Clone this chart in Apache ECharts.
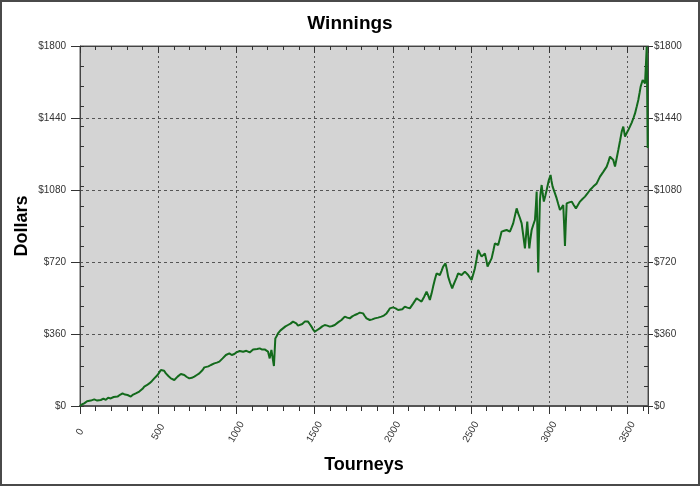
<!DOCTYPE html>
<html>
<head>
<meta charset="utf-8">
<script src="https://cdn.jsdelivr.net/npm/echarts@6/dist/echarts.min.js"></script>
<style>
html,body{margin:0;padding:0;background:#fff;}
#chart{width:700px;height:486px;}
</style>
</head>
<body>
<div id="chart"></div>
<script>
const chartTitle = 'Winnings';
const xTitle = 'Tourneys';
const yTitle = 'Dollars';
const xTickLabels = [0, 500, 1000, 1500, 2000, 2500, 3000, 3500];
const yTickLabels = [0, 360, 720, 1080, 1440, 1800];
const tourneys = [0,14,27,45,56,69,80,91,110,133,150,165,180,197,215,240,256,272,288,304,316,325,340,357,368,379,389,400,411,427,443,459,475,486,496,507,517,528,538,549,565,581,592,603,614,624,635,645,656,667,683,699,715,731,747,763,774,784,795,805,821,837,848,859,875,891,902,912,922,933,944,955,970,987,1000,1010,1021,1032,1043,1053,1064,1074,1085,1096,1107,1117,1133,1149,1165,1181,1192,1202,1213,1219,1224,1234,1240,1249,1258,1266,1282,1298,1314,1330,1346,1362,1373,1383,1394,1405,1421,1437,1447,1458,1469,1480,1490,1501,1517,1533,1549,1565,1581,1597,1613,1629,1650,1672,1683,1693,1709,1725,1741,1757,1773,1789,1800,1810,1821,1832,1843,1853,1869,1885,1906,1927,1943,1960,1970,1981,1992,2002,2018,2034,2045,2061,2077,2093,2109,2130,2152,2168,2184,2200,2216,2227,2237,2248,2258,2269,2280,2290,2301,2312,2322,2337,2346,2354,2367,2380,2388,2397,2408,2418,2429,2440,2450,2461,2472,2482,2493,2504,2515,2525,2536,2546,2557,2568,2578,2589,2598,2606,2619,2632,2643,2653,2664,2674,2685,2696,2712,2728,2738,2749,2760,2770,2781,2792,2802,2813,2824,2835,2845,2852,2860,2866,2873,2880,2888,2898,2909,2915,2920,2925,2930,2935,2941,2946,2952,2959,2966,2975,2984,2991,2998,3009,3015,3022,3035,3048,3058,3069,3080,3090,3096,3101,3106,3112,3128,3144,3157,3171,3184,3197,3213,3229,3245,3261,3282,3304,3325,3347,3368,3379,3389,3400,3410,3421,3432,3442,3453,3464,3474,3485,3496,3506,3517,3528,3539,3549,3560,3570,3578,3585,3592,3598,3606,3613,3619,3624,3630];
const dollars = [0,9,13,24,19,27,23,33,27,30,37,31,41,38,45,47,56,63,57,55,49,47,57,63,56,72,63,86,97,104,113,124,138,146,155,168,180,183,176,163,150,138,134,130,140,147,157,160,152,155,145,138,141,147,155,163,172,180,193,200,198,205,210,213,217,222,232,238,247,255,262,263,255,260,268,272,275,280,271,267,276,280,268,272,283,280,285,288,282,283,278,272,238,262,280,288,200,338,350,363,378,388,398,405,412,422,418,413,402,397,410,422,426,422,410,397,383,372,380,388,398,405,402,397,400,405,418,430,440,447,442,438,448,455,460,467,468,463,450,438,433,430,433,438,442,447,452,463,474,488,495,493,488,480,472,484,497,492,488,512,538,530,522,545,572,552,530,562,597,632,663,660,655,676,697,713,682,647,615,588,605,622,642,663,660,655,664,672,666,655,642,630,660,688,734,780,763,747,755,763,730,697,718,738,776,813,809,805,838,872,876,880,876,872,893,913,922,988,963,940,913,850,788,850,922,855,788,835,880,905,930,1000,1072,870,667,850,1030,1070,1105,1060,1022,1050,1080,1105,1130,1155,1125,1097,1068,1038,1010,980,992,1005,900,800,905,1013,1018,1022,1005,988,1005,1022,1035,1047,1063,1080,1097,1113,1147,1172,1197,1222,1247,1238,1230,1197,1240,1280,1325,1372,1397,1347,1365,1380,1398,1417,1440,1463,1497,1530,1565,1597,1615,1630,1620,1613,1610,1797,1290];

const X_MAX = 3632;
const data = tourneys.map((t, i) => [t, dollars[i]]);
const axisColor = '#333';
const labelFont = {color: '#333', fontSize: 10, fontFamily: 'Liberation Sans, Arial, sans-serif'};
const titleFont = {color: '#000', fontSize: 18, fontWeight: 'bold', fontFamily: 'Liberation Sans, Arial, sans-serif'};

function xAxisDef(pos, interval, tickLen, inside, extra) {
  return Object.assign({
    type: 'value', position: pos, min: 0, max: X_MAX, interval: interval,
    axisLine: {show: false, onZero: false},
    axisTick: {show: true, length: tickLen, inside: inside, lineStyle: {color: axisColor}},
    axisLabel: {show: false},
    splitLine: {show: false}
  }, extra || {});
}
function yAxisDef(pos, interval, tickLen, inside, extra) {
  return Object.assign({
    type: 'value', position: pos, min: 0, max: 1800, interval: interval,
    axisLine: {show: false, onZero: false},
    axisTick: {show: true, length: tickLen, inside: inside, lineStyle: {color: axisColor}},
    axisLabel: {show: false},
    splitLine: {show: false}
  }, extra || {});
}

const chart = echarts.init(document.getElementById('chart'), null, {renderer: 'canvas'});
chart.setOption({
  animation: false,
  backgroundColor: '#fff',
  title: {text: chartTitle, left: 'center', top: 9, textStyle: Object.assign({}, titleFont, {fontSize: 19})},
  grid: {left: 80, right: 52, top: 46, bottom: 80, show: true, backgroundColor: '#d4d4d4', borderColor: '#555', borderWidth: 1},
  xAxis: [
    xAxisDef('bottom', 500, 8, false, {
      name: xTitle, nameLocation: 'middle', nameGap: 50, nameMoveOverlap: false, nameTextStyle: titleFont,
      axisLine: {show: true, onZero: false, lineStyle: {color: '#555', width: 2}},
      axisLabel: Object.assign({show: true, rotate: 60, align: 'center', verticalAlign: 'middle', margin: 26,
        formatter: v => (xTickLabels.indexOf(v) >= 0 ? String(v) : '')}, labelFont),
      splitLine: {show: true, lineStyle: {color: '#555', type: [2, 3], width: 1}}
    }),
    xAxisDef('bottom', 100, 5, false),
    xAxisDef('top', 500, 7, true, {axisLine: {show: true, onZero: false, lineStyle: {color: '#444', width: 1}}}),
    xAxisDef('top', 100, 4, true)
  ],
  yAxis: [
    yAxisDef('left', 360, 9, false, {
      name: yTitle, nameLocation: 'middle', nameGap: 49, nameMoveOverlap: false, nameTextStyle: titleFont,
      axisLine: {show: true, onZero: false, lineStyle: {color: '#444', width: 1}},
      axisLabel: Object.assign({show: true, margin: 14,
        formatter: v => (yTickLabels.indexOf(v) >= 0 ? '$' + v : '')}, labelFont),
      splitLine: {show: true, lineStyle: {color: '#555', type: [3, 3], width: 1}}
    }),
    yAxisDef('left', 100, 4, true),
    yAxisDef('right', 360, 5, false, {
      axisLine: {show: true, onZero: false, lineStyle: {color: '#444', width: 1}},
      axisLabel: Object.assign({show: true, margin: 6,
        formatter: v => (yTickLabels.indexOf(v) >= 0 ? '$' + v : '')}, labelFont)
    }),
    yAxisDef('right', 100, 4, true)
  ],
  graphic: [{type: 'rect', silent: true, shape: {x: 1, y: 1, width: 698, height: 484},
    style: {fill: 'none', stroke: '#4a4a4a', lineWidth: 2}, z: 100}],
  series: [{
    type: 'line', xAxisIndex: 0, yAxisIndex: 0, data: data,
    showSymbol: false, symbol: 'none',
    lineStyle: {color: '#136a1c', width: 2},
    z: 5
  }]
});
</script>
</body>
</html>
